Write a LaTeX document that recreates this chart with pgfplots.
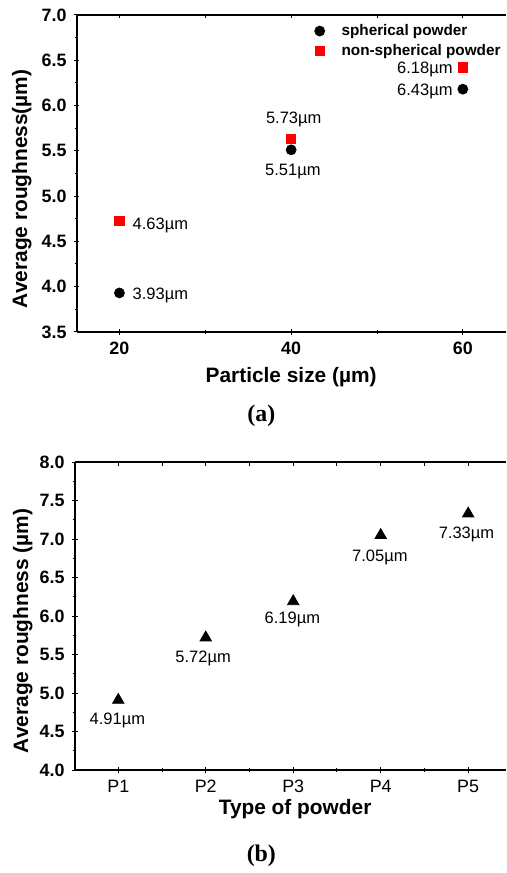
\documentclass[border=0pt]{standalone}
\usepackage{fontspec}
\setmainfont{Liberation Sans}
\newfontfamily\timesf{Liberation Serif}
\usepackage{pgfplots}
\pgfplotsset{compat=1.18}

\newcommand{\fs}[1]{\fontsize{#1}{#1}\selectfont}

\pgfplotsset{
  roughaxis/.style={
    scale only axis,
    axis x line*=bottom,
    axis y line*=left,
    axis line style={line width=1pt, black},
    tick style={line width=0.5pt, black},
    tick align=center,
    major tick length=3pt,
    minor tick length=1.8pt,
    /pgf/number format/assume math mode=true,
    y tick label style={font=\bfseries\fs{9}, /pgf/number format/.cd, fixed, fixed zerofill, precision=1},
    clip=false,
  },
}

\begin{document}
\begin{tikzpicture}
\path (0,0) rectangle (254.5pt,436.5pt);

% ---------------- panel (a)
\begin{axis}[
    roughaxis,
    at={(38.5pt,269.5pt)}, anchor=south west,
    width=216pt, height=159.5pt,
    xmin=15, xmax=65,
    ymin=3.5, ymax=7.0,
    xtick={20,40,60},
    minor xtick={30,50},
    ytick={3.5,4.0,...,7.0},
    minor ytick={3.75,4.25,...,6.75},
    x tick label style={font=\bfseries\fs{9}},
    legend style={at={(0.554,0.985)}, anchor=north west, draw=none, fill=none,
        font=\bfseries\fs{7.7}, row sep=-1pt, inner sep=0pt,
        /tikz/every odd column/.append style={column sep=6.5pt}},
    legend cell align=left,
]
\addplot[only marks, mark=*, mark size=2.5pt, black] coordinates {
    (20,3.93) (40,5.51) (60,6.18)
};
\addlegendentry{spherical powder}
\addplot[only marks, mark=square*, mark size=2.3pt, red, draw=red, fill=red] coordinates {
    (20,4.73) (40,5.63) (60,6.42)
};
\addlegendentry{non-spherical powder}

\draw[line width=1pt] (rel axis cs:0,1) -- (rel axis cs:1,1);
\pgfplotsinvokeforeach{20,30,40,50,60}{
  \draw[line width=0.5pt] (axis cs:#1,7.0) -- ([yshift=-1.8pt]axis cs:#1,7.0);
}

\node[anchor=west, font=\fs{8.3}, inner sep=0pt] at (axis cs:21.5,4.67) {4.63µm};
\node[anchor=west, font=\fs{8.3}, inner sep=0pt] at (axis cs:21.5,3.905) {3.93µm};
\node[font=\fs{8.3}, inner sep=0pt] at (axis cs:40.3,5.85) {5.73µm};
\node[font=\fs{8.3}, inner sep=0pt] at (axis cs:40.2,5.27) {5.51µm};
\node[anchor=east, font=\fs{8.3}, inner sep=0pt] at (axis cs:58.85,6.40) {6.18µm};
\node[anchor=east, font=\fs{8.3}, inner sep=0pt] at (axis cs:58.85,6.155) {6.43µm};
\end{axis}

\node[rotate=90, font=\bfseries\fs{10.5}] at (11pt,341.5pt) {Average roughness(µm)};
\node[font=\bfseries\fs{10.5}] at (146.5pt,246.5pt) {Particle size (µm)};
\node[font=\timesf\bfseries\fs{12}] at (131.5pt,227.5pt) {(a)};

% ---------------- panel (b)
\begin{axis}[
    roughaxis,
    at={(37.5pt,49pt)}, anchor=south west,
    width=217pt, height=155pt,
    xmin=0.5, xmax=5.43,
    ymin=4.0, ymax=8.0,
    xtick={1,2,3,4,5},
    xticklabels={P1,P2,P3,P4,P5},
    minor xtick={1.5,2.5,3.5,4.5},
    ytick={4.0,4.5,...,8.0},
    minor ytick={4.25,4.75,...,7.75},
    x tick label style={font=\fs{9}},
]
\addplot[only marks, mark=triangle*, mark size=3.3pt, black] coordinates {
    (1,4.91) (2,5.72) (3,6.19) (4,7.05) (5,7.33)
};

\draw[line width=1pt] (rel axis cs:0,1) -- (rel axis cs:1,1);
\pgfplotsinvokeforeach{1,1.5,2,2.5,3,3.5,4,4.5,5}{
  \draw[line width=0.5pt] (axis cs:#1,8.0) -- ([yshift=-1.8pt]axis cs:#1,8.0);
}

\node[font=\fs{8.3}, inner sep=0pt] at (axis cs:0.99,4.645) {4.91µm};
\node[font=\fs{8.3}, inner sep=0pt] at (axis cs:1.97,5.445) {5.72µm};
\node[font=\fs{8.3}, inner sep=0pt] at (axis cs:2.99,5.96) {6.19µm};
\node[font=\fs{8.3}, inner sep=0pt] at (axis cs:3.99,6.76) {7.05µm};
\node[font=\fs{8.3}, inner sep=0pt] at (axis cs:4.98,7.06) {7.33µm};
\end{axis}

\node[rotate=90, font=\bfseries\fs{10.5}] at (11.5pt,119pt) {Average roughness (µm)};
\node[font=\bfseries\fs{10.5}] at (148.5pt,29.5pt) {Type of powder};
\node[font=\timesf\bfseries\fs{12}] at (131.5pt,6pt) {(b)};
\end{tikzpicture}
\end{document}
